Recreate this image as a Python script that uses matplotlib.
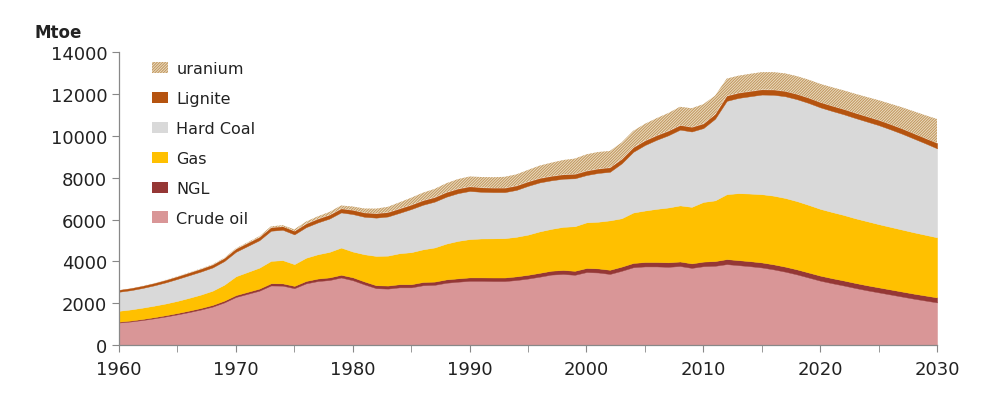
import matplotlib
matplotlib.use("Agg")
import matplotlib.pyplot as plt
from matplotlib.patches import Patch
import numpy as np

years = list(range(1960, 2031))

crude_oil = [1080, 1130, 1200, 1280, 1370, 1470, 1580, 1700, 1840, 2040,
             2300, 2450, 2600, 2850, 2840, 2720, 2950, 3060, 3110, 3230,
             3100, 2900, 2720, 2700, 2760, 2760, 2860, 2880, 2980, 3030,
             3070, 3070, 3060, 3060, 3110, 3180, 3270, 3370, 3400, 3360,
             3490, 3470, 3400, 3550, 3720, 3760, 3760, 3740, 3780, 3690,
             3770, 3790, 3870, 3820, 3770, 3710, 3620, 3510, 3380, 3230,
             3080, 2960, 2850, 2730, 2620, 2520, 2420, 2320, 2220, 2130,
             2040]

ngl = [40, 45, 50, 55, 60, 65, 70, 75, 80, 85,
       90, 95, 100, 105, 110, 110, 115, 120, 125, 130,
       140, 140, 140, 145, 150, 150, 155, 155, 160, 160,
       165, 165, 170, 170, 175, 180, 185, 185, 190, 190,
       195, 195, 200, 200, 205, 210, 210, 215, 215, 215,
       220, 225, 240, 240, 240, 240, 240, 240, 240, 240,
       240, 240, 240, 240, 240, 240, 240, 240, 240, 240,
       240]

gas = [520, 530, 540, 550, 560, 580, 610, 640, 680, 760,
       900, 950, 1000, 1070, 1110, 1040, 1110, 1160, 1220, 1300,
       1230, 1300, 1400, 1430, 1480, 1530, 1560, 1630, 1710, 1790,
       1830, 1860, 1870, 1880, 1890, 1920, 1980, 2000, 2060, 2130,
       2180, 2230, 2360, 2310, 2410, 2460, 2540, 2620, 2680, 2700,
       2850, 2900, 3100, 3200, 3230, 3260, 3280, 3280, 3260, 3230,
       3190, 3160, 3130, 3090, 3060, 3020, 2990, 2960, 2930, 2900,
       2870]

hard_coal = [910, 920, 940, 970, 1010, 1050, 1080, 1100, 1110, 1130,
             1170, 1240, 1310, 1440, 1450, 1420, 1460, 1520, 1590, 1680,
             1790, 1790, 1830, 1870, 1930, 2060, 2130, 2190, 2240, 2280,
             2300, 2230, 2210, 2200, 2240, 2330, 2340, 2320, 2300, 2290,
             2260, 2330, 2320, 2620, 2900, 3130, 3300, 3450, 3620, 3600,
             3530, 3900, 4460, 4550, 4650, 4760, 4820, 4860, 4870, 4870,
             4850, 4830, 4810, 4790, 4760, 4730, 4660, 4580, 4480, 4370,
             4250]

lignite = [90, 95, 100, 105, 110, 115, 120, 125, 130, 135,
           140, 145, 150, 155, 160, 160, 165, 170, 175, 180,
           190, 195, 200, 200, 200, 200, 205, 205, 210, 210,
           210, 205, 200, 200, 200, 200, 200, 200, 200, 200,
           200, 200, 205, 205, 210, 210, 210, 210, 210, 210,
           210, 220, 240, 240, 240, 240, 240, 240, 240, 240,
           240, 240, 240, 240, 240, 240, 240, 240, 240, 240,
           250]

uranium = [0, 2, 3, 5, 7, 10, 12, 15, 18, 20,
           25, 30, 40, 50, 60, 80, 100, 120, 140, 150,
           170, 200, 230, 260, 300, 340, 370, 400, 430, 460,
           480, 500, 510, 530, 540, 560, 600, 640, 690, 740,
           790, 800, 790, 790, 790, 800, 820, 850, 880, 900,
           930, 880, 820, 820, 830, 830, 840, 850, 860, 870,
           880, 890, 900, 915, 930, 950, 980, 1020, 1060, 1100,
           1150]

labels = ["Crude oil", "NGL", "Gas", "Hard Coal", "Lignite", "uranium"]
colors = ["#D99697", "#953735", "#FFC000", "#D9D9D9", "#B5530F", "#EDE1C9"]
hatch_color = "#C49A62"
x_ticks = [1960, 1970, 1980, 1990, 2000, 2010, 2020, 2030]
y_ticks = [0, 2000, 4000, 6000, 8000, 10000, 12000, 14000]

plt.rcParams['font.family'] = ['DejaVu Sans']
plt.rcParams['hatch.linewidth'] = 0.8

fig = plt.figure(figsize=(9.97, 4.02), dpi=100)
ax = fig.add_axes([0.1194, 0.139, 0.8205, 0.729])

series = [crude_oil, ngl, gas, hard_coal, lignite, uranium]
yrs = np.array(years)
base = np.zeros(len(years))
for i, s in enumerate(series):
    top = base + np.array(s)
    if labels[i] == "uranium":
        ax.fill_between(yrs, base, top, facecolor=colors[i], edgecolor=hatch_color,
                        hatch="/" * 12, linewidth=0)
    else:
        ax.fill_between(yrs, base, top, facecolor=colors[i], edgecolor=colors[i],
                        linewidth=0.3)
    base = top

ax.set_xlim(1960, 2030)
ax.set_ylim(0, 14000)
ax.set_xticks(x_ticks)
ax.set_xticks(list(range(1965, 2030, 10)), minor=True)
ax.set_yticks(y_ticks)
ax.tick_params(axis='both', which='both', direction='out', length=5,
               color='#888888', labelsize=13, labelcolor='#222222')
ax.tick_params(axis='x', pad=6)
for side in ['top', 'right']:
    ax.spines[side].set_visible(False)
for side in ['left', 'bottom']:
    ax.spines[side].set_color('#888888')
    ax.spines[side].set_linewidth(0.9)

fig.text(0.035, 0.918, "Mtoe", fontsize=12, fontweight='bold', color='#222222',
         va='center', ha='left')

handles = []
for i in reversed(range(len(labels))):
    if labels[i] == "uranium":
        handles.append(Patch(facecolor=colors[i], edgecolor=hatch_color,
                             hatch="/" * 12, linewidth=0, label=labels[i]))
    else:
        handles.append(Patch(facecolor=colors[i], edgecolor=colors[i],
                             linewidth=0, label=labels[i]))
leg = ax.legend(handles=handles, loc='upper left', bbox_to_anchor=(0.033, 0.99),
                frameon=False, fontsize=11.5, handlelength=1.0, handleheight=0.7,
                handletextpad=0.5, labelspacing=0.93, borderaxespad=0)
for t in leg.get_texts():
    t.set_color('#222222')

fig.savefig("out.png", dpi=100)
